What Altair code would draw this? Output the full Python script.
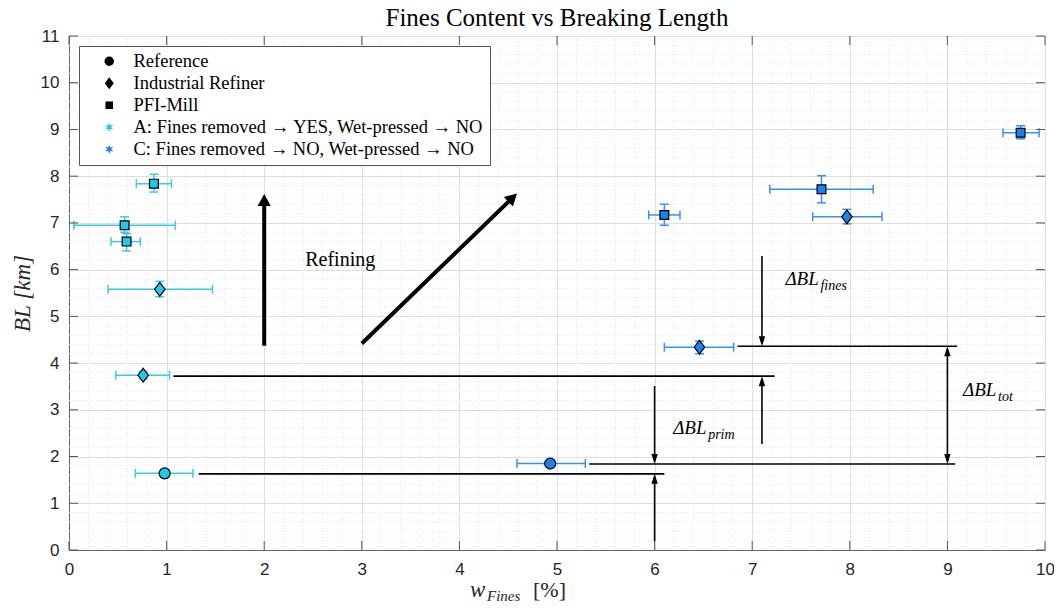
import math
import altair as alt
import pandas as pd

# ---------------- data ----------------
leg_labels = ["Reference", "Industrial Refiner", "PFI-Mill",
              "A: Fines removed \u2192 YES, Wet-pressed \u2192 NO",
              "C: Fines removed \u2192 NO, Wet-pressed \u2192 NO"]

kind = ["Reference", "Industrial Refiner", "Industrial Refiner", "PFI-Mill", "PFI-Mill", "PFI-Mill",
        "Reference", "Industrial Refiner", "Industrial Refiner", "PFI-Mill", "PFI-Mill", "PFI-Mill"]
series = ["A", "A", "A", "A", "A", "A", "C", "C", "C", "C", "C", "C"]
w_fines = [0.98, 0.76, 0.93, 0.59, 0.57, 0.87, 4.93, 6.46, 7.97, 6.10, 7.71, 9.75]
w_lo    = [0.68, 0.48, 0.40, 0.43, 0.05, 0.69, 4.59, 6.10, 7.62, 5.94, 7.18, 9.57]
w_hi    = [1.27, 1.03, 1.47, 0.73, 1.09, 1.05, 5.29, 6.81, 8.33, 6.26, 8.24, 9.94]
bl      = [1.64, 3.74, 5.58, 6.60, 6.95, 7.84, 1.85, 4.34, 7.13, 7.17, 7.72, 8.93]
bl_lo   = [1.60, 3.66, 5.42, 6.40, 6.80, 7.66, 1.81, 4.20, 6.98, 6.95, 7.43, 8.80]
bl_hi   = [1.68, 3.82, 5.75, 6.77, 7.13, 8.04, 1.89, 4.47, 7.29, 7.40, 8.01, 9.08]

x_ticks = [0, 1, 2, 3, 4, 5, 6, 7, 8, 9, 10]
y_ticks = [0, 1, 2, 3, 4, 5, 6, 7, 8, 9, 10, 11]

# horizontal guide lines
guide_x1 = [1.33, 1.07, 5.33, 6.85]
guide_x2 = [6.10, 7.23, 9.08, 9.10]
guide_y  = [1.63, 3.72, 1.84, 4.36]

# arrows
arrow_x1 = [2.0, 3.0, 6.0, 6.0, 7.1, 7.1, 9.0]
arrow_y1 = [4.37, 4.42, 3.51, 0.19, 6.29, 2.27, 1.84]
arrow_x2 = [2.0, 4.59, 6.0, 6.0, 7.1, 7.1, 9.0]
arrow_y2 = [7.62, 7.63, 1.84, 1.63, 4.36, 3.72, 4.36]
arrow_style = ["thick", "thick", "thin", "thin", "thin", "thin", "thin"]
arrow_both = [False, False, False, False, False, False, True]

# annotation texts
delta_x = [7.34, 6.19, 9.16]
delta_y = [5.80, 2.61, 3.42]
delta_sub = ["fines", "prim", "tot"]
refining_x = [2.42]
refining_y = [6.20]
refining_text = ["Refining"]

# ---------------- style ----------------
W, H = 976, 514
CYAN, BLUE = "#22c8e8", "#1a82f0"
CYAN_BAR, BLUE_BAR = "#3ccbe6", "#3a90f0"
SERIF = "Liberation Serif"
SANS = "Liberation Sans"

def star_path(n=6, r_out=1.0, r_in=0.42):
    pts = []
    for i in range(2 * n):
        r = r_out if i % 2 == 0 else r_in
        a = math.pi * i / n
        pts.append((r * math.sin(a), -r * math.cos(a)))
    return "M" + "L".join(f"{px:.3f},{py:.3f}" for px, py in pts) + "Z"

STAR = star_path()
DIAMOND = "M0,-1.25L0.95,0L0,1.25L-0.95,0Z"
SQUARE = "M-0.8,-0.8L0.8,-0.8L0.8,0.8L-0.8,0.8Z"
shape_scale = alt.Scale(domain=leg_labels, range=["circle", DIAMOND, SQUARE, STAR, STAR])
color_scale = alt.Scale(domain=leg_labels, range=["black", "black", "black", CYAN, BLUE])
fill_scale = alt.Scale(domain=["A", "C"], range=[CYAN, BLUE])
stroke_scale = alt.Scale(domain=["A", "C"], range=[CYAN_BAR, BLUE_BAR])

xs = alt.Scale(domain=[0, 10], nice=False, zero=False)
ys = alt.Scale(domain=[0, 11], nice=False, zero=False)

x_axis = alt.Axis(values=x_ticks, title=None, grid=True, gridColor="#dedede", tickSize=0,
                  labelFont=SANS, labelFontSize=17, labelColor="#262626", labelPadding=11,
                  domainColor="#666666", labelFlush=False)
y_axis = alt.Axis(values=y_ticks, title="BL [km]", grid=True, gridColor="#dedede", tickSize=0,
                  labelFont=SANS, labelFontSize=17, labelColor="#262626", labelPadding=10,
                  domainColor="#666666", labelFlush=False,
                  titleFont=SERIF, titleFontStyle="italic", titleFontWeight="normal",
                  titleFontSize=23, titleColor="#262626", titlePadding=6)

leg_def = alt.Legend(title=None, orient="top-left", offset=10, padding=6,
                     strokeColor="#555555", fillColor="white",
                     labelFont=SERIF, labelFontSize=18.5, labelColor="black", labelLimit=800,
                     symbolSize=90, symbolOffset=15, labelOffset=15, rowPadding=3,
                     symbolStrokeWidth=0)

# ---------------- derived tables ----------------
pts = pd.DataFrame(dict(leg=kind, series=series, w=w_fines, w_lo=w_lo, w_hi=w_hi,
                        bl=bl, bl_lo=bl_lo, bl_hi=bl_hi))
guides = pd.DataFrame(dict(x=guide_x1, x2=guide_x2, y=guide_y))

SX, SY = W / 10, H / 11
TRIM = {"thick": 6, "thin": 3}
line_rows, head_rows = [], []
for x1, y1, x2, y2, st, both in zip(arrow_x1, arrow_y1, arrow_x2, arrow_y2, arrow_style, arrow_both):
    dxp, dyp = (x2 - x1) * SX, (y2 - y1) * SY
    L = math.hypot(dxp, dyp)
    ux, uy = (x2 - x1) / L, (y2 - y1) / L
    t = TRIM[st]
    ex, ey = x2 - ux * t, y2 - uy * t
    sx_, sy_ = (x1 + ux * t, y1 + uy * t) if both else (x1, y1)
    ang = math.degrees(math.atan2(dxp, dyp)) % 360
    line_rows.append(dict(x=sx_, y=sy_, x2=ex, y2=ey, style=st))
    head_rows.append(dict(x=x2, y=y2, angle=ang, style=st))
    if both:
        head_rows.append(dict(x=x1, y=y1, angle=(ang + 180) % 360, style=st))
arrow_lines = pd.DataFrame(line_rows)
arrow_heads = pd.DataFrame(head_rows)

deltas = pd.DataFrame(dict(x=delta_x, y=delta_y, sub=delta_sub))
refine = pd.DataFrame(dict(x=refining_x, y=refining_y, t=refining_text))
legdf = pd.DataFrame({"leg": leg_labels, "w": [None] * 5, "bl": [None] * 5})

minor_x = [round(i * 0.2, 1) for i in range(1, 50) if i % 5]
minor_y = [round(i * 0.2, 1) for i in range(1, 55) if i % 5]

def X(f):
    return alt.X(f, scale=xs, axis=x_axis)

def Y(f):
    return alt.Y(f, scale=ys, axis=y_axis)

stroke_enc = alt.Stroke("series:N", scale=stroke_scale, legend=None)

# ---------------- layers ----------------
grid_x = alt.Chart(pd.DataFrame({"v": minor_x})).mark_rule(
    color="#e6e6e6", strokeDash=[1, 2], strokeWidth=1).encode(x=X("v:Q"))
grid_y = alt.Chart(pd.DataFrame({"v": minor_y})).mark_rule(
    color="#e6e6e6", strokeDash=[1, 2], strokeWidth=1).encode(y=Y("v:Q"))

base = alt.Chart(pts)
xbar = base.mark_rule(strokeWidth=1.5).encode(x=X("w_lo:Q"), x2="w_hi:Q", y=Y("bl:Q"), stroke=stroke_enc)
ybar = base.mark_rule(strokeWidth=1.5).encode(x=X("w:Q"), y=Y("bl_lo:Q"), y2="bl_hi:Q", stroke=stroke_enc)
xcaps = base.transform_fold(["w_lo", "w_hi"], as_=["end", "xv"]).mark_point(
    shape="M0,-1L0,1", filled=False, size=81, strokeWidth=1.5, opacity=1).encode(
    x=X("xv:Q"), y=Y("bl:Q"), stroke=stroke_enc)
ycaps = base.transform_fold(["bl_lo", "bl_hi"], as_=["end", "yv"]).mark_point(
    shape="M-1,0L1,0", filled=False, size=81, strokeWidth=1.5, opacity=1).encode(
    x=X("w:Q"), y=Y("yv:Q"), stroke=stroke_enc)

guide_layer = alt.Chart(guides).mark_rule(color="black", strokeWidth=1.6).encode(
    x=X("x:Q"), x2="x2:Q", y=Y("y:Q"))

arrow_thick = alt.Chart(arrow_lines).transform_filter(alt.datum.style == "thick").mark_rule(
    color="black", strokeWidth=4).encode(x=X("x:Q"), y=Y("y:Q"), x2="x2:Q", y2="y2:Q")
arrow_thin = alt.Chart(arrow_lines).transform_filter(alt.datum.style == "thin").mark_rule(
    color="black", strokeWidth=1.6).encode(x=X("x:Q"), y=Y("y:Q"), x2="x2:Q", y2="y2:Q")
head_thick = alt.Chart(arrow_heads).transform_filter(alt.datum.style == "thick").mark_point(
    shape="M0,0L-0.55,1L0.55,1Z", filled=True, color="black", size=576, opacity=1).encode(
    x=X("x:Q"), y=Y("y:Q"), angle=alt.Angle("angle:Q", scale=None))
head_thin = alt.Chart(arrow_heads).transform_filter(alt.datum.style == "thin").mark_point(
    shape="M0,0L-0.32,1L0.32,1Z", filled=True, color="black", size=400, opacity=1).encode(
    x=X("x:Q"), y=Y("y:Q"), angle=alt.Angle("angle:Q", scale=None))

points = base.mark_point(filled=True, size=121, stroke="black", strokeWidth=1.2, opacity=1).encode(
    x=X("w:Q"), y=Y("bl:Q"),
    shape=alt.Shape("leg:N", scale=shape_scale, legend=leg_def),
    fill=alt.Fill("series:N", scale=fill_scale, legend=None),
)

legend_layer = alt.Chart(legdf).mark_point(filled=True, opacity=1).encode(
    x=X("w:Q"), y=Y("bl:Q"),
    shape=alt.Shape("leg:N", scale=shape_scale, legend=leg_def),
    color=alt.Color("leg:N", scale=color_scale, legend=leg_def),
)

refine_text = alt.Chart(refine).mark_text(
    align="left", baseline="middle", font=SERIF, fontSize=20, color="black").encode(
    x=X("x:Q"), y=Y("y:Q"), text="t:N")
delta_main = alt.Chart(deltas).mark_text(
    align="left", baseline="middle", font=SERIF, fontStyle="italic", fontSize=19,
    color="black", text="\u0394BL").encode(x=X("x:Q"), y=Y("y:Q"))
delta_subs = alt.Chart(deltas).mark_text(
    align="left", baseline="middle", font=SERIF, fontStyle="italic", fontSize=14,
    color="black", dx=35, dy=7).encode(x=X("x:Q"), y=Y("y:Q"), text="sub:N")

# inward ticks on all four sides
tick_c = "#555555"
tx_df = pd.DataFrame({"v": x_ticks})
ty_df = pd.DataFrame({"v": y_ticks})
tick_b = alt.Chart(tx_df).mark_rule(color=tick_c).encode(x=X("v:Q"), y=alt.value(H), y2=alt.value(H - 9))
tick_t = alt.Chart(tx_df).mark_rule(color=tick_c).encode(x=X("v:Q"), y=alt.value(0), y2=alt.value(9))
tick_l = alt.Chart(ty_df).mark_rule(color=tick_c).encode(y=Y("v:Q"), x=alt.value(0), x2=alt.value(9))
tick_r = alt.Chart(ty_df).mark_rule(color=tick_c).encode(y=Y("v:Q"), x=alt.value(W - 9), x2=alt.value(W))

# x axis title  w_Fines [%]
xt_w = alt.Chart(pd.DataFrame({"t": ["w"]})).mark_text(
    align="left", baseline="alphabetic", font=SERIF, fontStyle="italic", fontSize=23, color="#262626").encode(
    text="t:N", x=alt.value(401), y=alt.value(H + 47))
xt_sub = alt.Chart(pd.DataFrame({"t": ["Fines"]})).mark_text(
    align="left", baseline="alphabetic", font=SERIF, fontStyle="italic", fontSize=15, color="#262626").encode(
    text="t:N", x=alt.value(418), y=alt.value(H + 51))
xt_pct = alt.Chart(pd.DataFrame({"t": ["[%]"]})).mark_text(
    align="left", baseline="alphabetic", font=SERIF, fontSize=22, color="#262626").encode(
    text="t:N", x=alt.value(464), y=alt.value(H + 47))

chart = alt.layer(
    grid_x, grid_y, xbar, ybar, xcaps, ycaps, guide_layer,
    arrow_thick, arrow_thin, head_thick, head_thin,
    points, legend_layer, refine_text, delta_main, delta_subs,
    tick_b, tick_t, tick_l, tick_r, xt_w, xt_sub, xt_pct,
).properties(
    width=W, height=H,
    padding={"left": 61, "top": 28, "right": 9, "bottom": 54},
    autosize=alt.AutoSizeParams(type="none"),
    title=alt.TitleParams("Fines Content vs Breaking Length", font=SERIF, fontSize=25,
                          fontWeight="normal", color="black", anchor="middle", offset=-4),
).configure_view(stroke="#666666", strokeWidth=1).configure(background="white")

chart.save("out.html", embed_options={"renderer": "svg", "actions": False})
